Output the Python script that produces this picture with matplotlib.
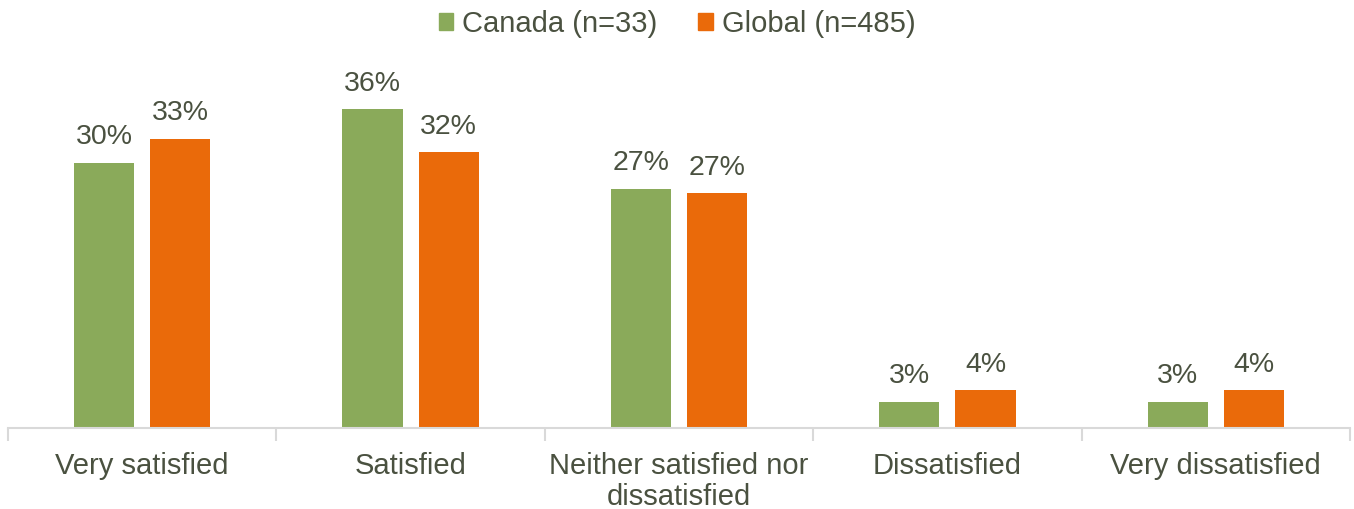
import matplotlib
matplotlib.use("Agg")
import matplotlib.pyplot as plt
import numpy as np
from matplotlib.patches import Patch

categories = ["Very satisfied", "Satisfied", "Neither satisfied nor\ndissatisfied", "Dissatisfied", "Very dissatisfied"]
canada = [30.3, 36.4, 27.3, 3.0, 3.0]
global_ = [33.0, 31.5, 26.8, 4.3, 4.3]
series_names = ["Canada (n=33)", "Global (n=485)"]
colors = ["#8AAA5A", "#EA6A0A"]
text_color = "#4A5140"

plt.rcParams['font.family'] = ['Liberation Sans', 'DejaVu Sans']

fig = plt.figure(figsize=(13.54, 5.09), dpi=100)
ax = fig.add_axes([8/1354, (509-428)/509, (1350-8)/1354, (428-60)/509])

x = np.arange(len(categories))
w = 0.224
off = 0.142
b1 = ax.bar(x - off, canada, w, color=colors[0])
b2 = ax.bar(x + off, global_, w, color=colors[1])

for bars, vals in ((b1, canada), (b2, global_)):
    for r, v in zip(bars, vals):
        ax.annotate(f"{round(v)}%", (r.get_x() + r.get_width()/2, v), xytext=(0, 9),
                    textcoords="offset points", ha="center", va="bottom",
                    fontsize=20.5, color=text_color)

ax.set_xlim(-0.5, len(categories) - 0.5)
ax.set_ylim(0, 42)
ax.set_yticks([])
for s in ["top", "right", "left"]:
    ax.spines[s].set_visible(False)
ax.spines["bottom"].set_color("#D9D9D9")
ax.spines["bottom"].set_linewidth(1.5)

ax.set_xticks(x)
ax.set_xticklabels(categories, fontsize=21, color=text_color, linespacing=1.15)
ax.tick_params(axis="x", length=0, pad=17)
ax.set_xticks(np.arange(-0.5, len(categories), 1), minor=True)
ax.tick_params(axis="x", which="minor", length=9, width=1.5, color="#D9D9D9")

handles = [Patch(color=c) for c in colors]
fig.legend(handles, series_names, loc="center", bbox_to_anchor=(0.5, 1 - 24/509), ncol=2,
           frameon=False, fontsize=21, labelcolor=text_color, handlelength=0.5,
           handleheight=0.5, handletextpad=0.3, columnspacing=1.4)

fig.savefig("out.png", dpi=100)
